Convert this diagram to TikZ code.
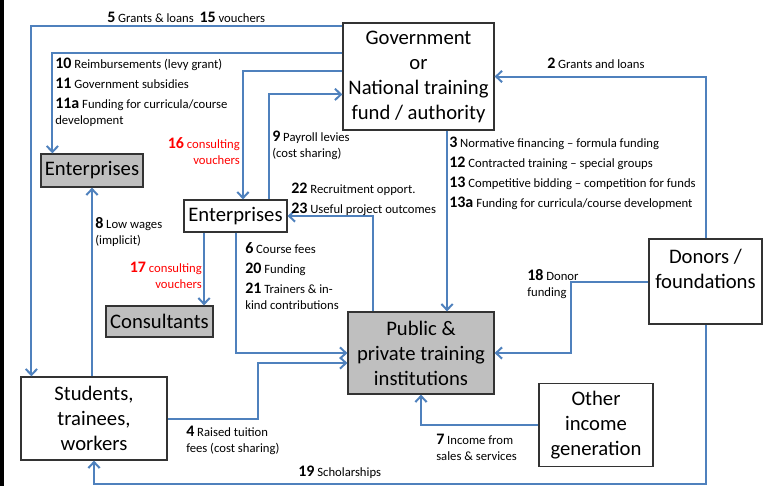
\documentclass[tikz,border=0pt]{standalone}
\usepackage{fontspec}
\setmainfont{Carlito}
\usepackage{tikz}
\usetikzlibrary{%
  arrows.meta,%
  calc,%
  positioning}

\definecolor{linkblue}{HTML}{4F81BD}
\definecolor{boxgrey}{HTML}{BFBFBF}
\definecolor{vred}{HTML}{FF0000}

\newcommand{\nr}[1]{{\fontsize{12}{12}\selectfont\bfseries #1}}

\tikzset{
  box/.style={rectangle,draw=black!80,line width=0.9pt,inner sep=0pt,align=center,
    font=\fontsize{15.5}{18.75}\selectfont},
  greybox/.style={box,fill=boxgrey},
  flow/.style={draw=linkblue,line width=1.5pt,-{Straight Barb[length=4.5pt,width=8.5pt]}},
  lbl/.style={inner sep=0pt,anchor=north west,align=left,font=\fontsize{9.5}{12}\selectfont},
  redlbl/.style={lbl,anchor=north east,align=right,text=vred}
}

\begin{document}
\begin{tikzpicture}
\begin{scope}[x=0.75pt,y=-0.75pt]
\useasboundingbox (0,0) rectangle (767,486);
\fill[black] (0,0) rectangle (3.5,486);
% description et nommage des noeuds
\node (gov) at (418.5,76.5) [box,minimum width=113.25pt,minimum height=80.25pt] {Government\\or\\National training\\fund / authority};
\node (entA) at (92,170.5) [greybox,minimum width=76.5pt,minimum height=24.75pt] {Enterprises};
\node (entB) at (235.5,216) [box,minimum width=77.25pt,minimum height=24pt] {Enterprises};
\node (cons) at (159.5,321.5) [greybox,minimum width=80.25pt,minimum height=23.25pt] {Consultants};
\node (stud) at (94,418.5) [box,minimum width=109.5pt,minimum height=62.25pt] {Students,\\trainees,\\workers};
\node (pub) at (421,353) [greybox,minimum width=109.5pt,minimum height=61.5pt] {Public \&\\private training\\institutions};
\node (don) at (705.5,281.5) [box,minimum width=84.75pt,minimum height=63.75pt] {Donors /\\foundations\\\mbox{}};
\node (oth) at (596,425) [box,minimum width=85.5pt,minimum height=62.25pt] {Other\\income\\generation};
% points de depart
\coordinate (g3) at ([xshift=21.4pt]gov.south);
\coordinate (e17) at ([xshift=-23.6pt]entB.south);
% fleches
\draw[flow] ([yshift=-3pt]gov.north west) -| ([xshift=8.25pt]stud.north west);
\draw[flow] ([yshift=-23.25pt]gov.north west) -| ([xshift=9pt]entA.north west);
\draw[flow] ([yshift=-36.75pt]gov.north west) -| ([xshift=5.6pt]entB.north);
\draw[flow] ([xshift=25pt]entB.north) |- ([yshift=-54pt]gov.north west);
\draw[flow] ([xshift=-36pt]pub.north) |- (entB.east);
\draw[flow] (g3) -- (g3 |- pub.north);
\draw[flow] (don.north) |- (gov.east);
\draw[flow] (don.west) -- ++(-77,0) |- (pub.east);
\draw[flow] (oth.west) -| (pub.south);
\draw[flow] (don.south) -- ++(0,159) -| (stud.south);
\draw[flow] (stud.north -| entA.south) -- (entA.south);
\draw[flow] (stud.east) -- ++(90,0) |- ([yshift=-7.5pt]pub.west);
\draw[flow] (entB.south) |- (pub.west);
\draw[flow] (e17) -- (e17 |- cons.north);
% etiquettes
\node (l5) at (107,12) [lbl] {\nr{5} Grants \& loans~\ \nr{15} vouchers};
\node (l10) at (55,58) [lbl] {\nr{10} Reimbursements (levy grant)\\[3pt]\nr{11} Government subsidies\\[3pt]\nr{11a} Funding for curricula/course\\development};
\node (l16) at (240,137) [redlbl] {\nr{16} consulting\\vouchers};
\node (l9) at (272,131) [lbl] {\nr{9} Payroll levies\\(cost sharing)};
\node (l22) at (291,183) [lbl] {\nr{22} Recruitment opport.\\[2.5pt]\nr{23} Useful project outcomes};
\node (l3) at (449,137) [lbl] {\nr{3} Normative financing -- formula funding\\[3pt]\nr{12} Contracted training -- special groups\\[3pt]\nr{13} Competitive bidding -- competition for funds\\[3pt]\nr{13a} Funding for curricula/course development};
\node (l2) at (547,58) [lbl] {\nr{2} Grants and loans};
\node (l8) at (95,217) [lbl] {\nr{8} Low wages\\(implicit)};
\node (l17) at (202,262) [redlbl] {\nr{17} consulting\\vouchers};
\node (l6) at (245,242) [lbl] {\nr{6} Course fees\\[3pt]\nr{20} Funding\\[3pt]\nr{21} Trainers \& in-\\kind contributions};
\node (l4) at (186,426) [lbl] {\nr{4} Raised tuition\\fees (cost sharing)};
\node (l19) at (298,466) [lbl] {\nr{19} Scholarships};
\node (l18) at (527,269) [lbl] {\nr{18} Donor\\funding};
\node (l7) at (436,434) [lbl] {\nr{7} Income from\\sales \& services};
\end{scope}
\end{tikzpicture}
\end{document}
